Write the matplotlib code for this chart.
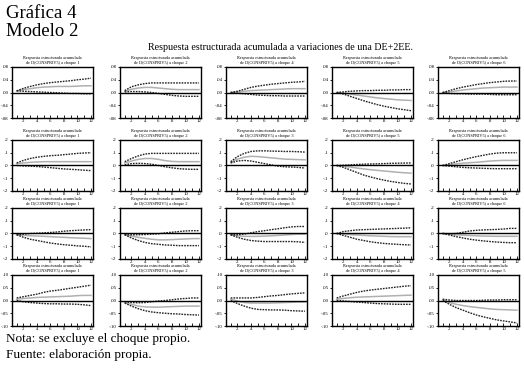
import matplotlib
matplotlib.use('Agg')
import matplotlib.pyplot as plt

plt.rcParams['font.family'] = ['Liberation Serif', 'DejaVu Serif']

periods = list(range(1, 13))

# shock number shown in each panel title, row by row
shocks = [
    [1, 2, 4, 5, 6],
    [1, 2, 3, 5, 6],
    [1, 2, 3, 4, 6],
    [1, 2, 3, 4, 5],
]

row_ticks = [
    [0.08, 0.04, 0.00, -0.04, -0.08],
    [0.2, 0.1, 0.0, -0.1, -0.2],
    [0.2, 0.1, 0.0, -0.1, -0.2],
    [0.10, 0.05, 0.00, -0.05, -0.10],
]
row_labels = [
    ['.08', '.04', '.00', '-.04', '-.08'],
    ['.2', '.1', '.0', '-.1', '-.2'],
    ['.2', '.1', '.0', '-.1', '-.2'],
    ['.10', '.05', '.00', '-.05', '-.10'],
]

# accumulated response (central) and +/- 2 s.e. bands
central = [
    [
        [0.005, 0.009, 0.012, 0.015, 0.017, 0.018, 0.019, 0.019, 0.019, 0.020, 0.021, 0.021],
        [0.004, 0.010, 0.014, 0.016, 0.016, 0.014, 0.012, 0.010, 0.009, 0.009, 0.009, 0.009],
        [0.0, 0.002, 0.004, 0.006, 0.007, 0.008, 0.009, 0.010, 0.011, 0.012, 0.012, 0.012],
        [0.0, -0.002, -0.005, -0.008, -0.011, -0.014, -0.017, -0.019, -0.021, -0.023, -0.024, -0.025],
        [0.0, 0.002, 0.005, 0.008, 0.010, 0.012, 0.014, 0.015, 0.016, 0.017, 0.017, 0.017],
    ],
    [
        [0.015, 0.020, 0.025, 0.028, 0.030, 0.030, 0.030, 0.030, 0.030, 0.030, 0.030, 0.030],
        [0.02, 0.035, 0.048, 0.055, 0.055, 0.048, 0.038, 0.032, 0.030, 0.030, 0.030, 0.030],
        [0.025, 0.05, 0.065, 0.072, 0.070, 0.065, 0.060, 0.055, 0.050, 0.048, 0.046, 0.045],
        [0.0, -0.005, -0.012, -0.020, -0.027, -0.033, -0.038, -0.043, -0.048, -0.053, -0.057, -0.060],
        [0.0, 0.007, 0.013, 0.018, 0.022, 0.025, 0.030, 0.035, 0.038, 0.040, 0.040, 0.040],
    ],
    [
        [-0.01, -0.015, -0.018, -0.020, -0.022, -0.025, -0.028, -0.030, -0.033, -0.035, -0.037, -0.040],
        [-0.01, -0.02, -0.03, -0.038, -0.045, -0.050, -0.050, -0.048, -0.045, -0.043, -0.040, -0.040],
        [-0.01, -0.018, -0.022, -0.023, -0.022, -0.020, -0.018, -0.015, -0.012, -0.008, -0.005, -0.005],
        [0.0, -0.003, -0.008, -0.012, -0.015, -0.018, -0.020, -0.022, -0.024, -0.025, -0.025, -0.025],
        [0.0, -0.005, -0.010, -0.013, -0.016, -0.018, -0.020, -0.021, -0.022, -0.022, -0.022, -0.022],
    ],
    [
        [0.005, 0.008, 0.010, 0.012, 0.013, 0.014, 0.015, 0.016, 0.017, 0.019, 0.020, 0.020],
        [-0.008, -0.015, -0.022, -0.025, -0.026, -0.026, -0.025, -0.024, -0.023, -0.022, -0.022, -0.022],
        [0.005, -0.002, -0.008, -0.010, -0.010, -0.010, -0.010, -0.009, -0.008, -0.007, -0.006, -0.006],
        [0.005, 0.008, 0.011, 0.013, 0.014, 0.015, 0.016, 0.017, 0.018, 0.019, 0.020, 0.021],
        [0.003, -0.008, -0.015, -0.020, -0.024, -0.027, -0.030, -0.033, -0.035, -0.036, -0.037, -0.038],
    ],
]

upper = [
    [
        [0.005, 0.013, 0.019, 0.024, 0.028, 0.031, 0.033, 0.035, 0.037, 0.040, 0.042, 0.045],
        [0.006, 0.018, 0.024, 0.028, 0.030, 0.030, 0.030, 0.030, 0.030, 0.030, 0.030, 0.030],
        [0.0, 0.004, 0.010, 0.016, 0.020, 0.023, 0.026, 0.028, 0.030, 0.032, 0.033, 0.035],
        [0.0, 0.002, 0.004, 0.005, 0.006, 0.006, 0.007, 0.007, 0.008, 0.008, 0.009, 0.009],
        [0.0, 0.006, 0.012, 0.017, 0.021, 0.025, 0.028, 0.031, 0.033, 0.035, 0.036, 0.036],
    ],
    [
        [0.02, 0.04, 0.055, 0.065, 0.072, 0.077, 0.080, 0.085, 0.090, 0.095, 0.098, 0.100],
        [0.03, 0.055, 0.075, 0.09, 0.095, 0.095, 0.095, 0.095, 0.095, 0.095, 0.095, 0.095],
        [0.03, 0.07, 0.095, 0.11, 0.115, 0.115, 0.113, 0.112, 0.110, 0.110, 0.108, 0.105],
        [0.0, 0.002, 0.005, 0.008, 0.010, 0.012, 0.013, 0.015, 0.017, 0.018, 0.019, 0.020],
        [0.0, 0.015, 0.03, 0.045, 0.058, 0.070, 0.080, 0.090, 0.097, 0.100, 0.100, 0.100],
    ],
    [
        [-0.01, -0.005, 0.0, 0.002, 0.005, 0.008, 0.012, 0.018, 0.022, 0.025, 0.028, 0.030],
        [-0.01, -0.01, -0.01, -0.008, -0.005, -0.002, 0.005, 0.010, 0.015, 0.020, 0.022, 0.022],
        [-0.01, -0.01, -0.005, 0.005, 0.015, 0.022, 0.030, 0.037, 0.045, 0.052, 0.055, 0.055],
        [0.0, 0.015, 0.022, 0.028, 0.030, 0.032, 0.034, 0.036, 0.038, 0.040, 0.042, 0.045],
        [0.0, -0.002, 0.0, 0.010, 0.020, 0.025, 0.028, 0.030, 0.032, 0.035, 0.040, 0.040],
    ],
    [
        [0.01, 0.015, 0.020, 0.025, 0.032, 0.037, 0.040, 0.044, 0.048, 0.052, 0.056, 0.060],
        [-0.005, -0.008, -0.009, -0.008, -0.005, -0.002, 0.0, 0.003, 0.006, 0.008, 0.010, 0.010],
        [0.01, 0.01, 0.01, 0.01, 0.012, 0.015, 0.018, 0.020, 0.023, 0.026, 0.028, 0.030],
        [0.01, 0.018, 0.025, 0.032, 0.037, 0.041, 0.044, 0.047, 0.050, 0.053, 0.056, 0.058],
        [0.005, 0.002, 0.0, 0.0, 0.0, 0.0, 0.001, 0.002, 0.002, 0.003, 0.003, 0.003],
    ],
]

lower = [
    [
        [0.005, 0.004, 0.003, 0.002, 0.001, 0.0, -0.001, -0.002, -0.003, -0.003, -0.004, -0.004],
        [0.002, 0.003, 0.003, 0.002, 0.000, -0.003, -0.006, -0.009, -0.011, -0.012, -0.012, -0.012],
        [0.0, -0.002, -0.004, -0.006, -0.008, -0.009, -0.010, -0.010, -0.011, -0.011, -0.011, -0.011],
        [0.0, -0.005, -0.012, -0.019, -0.026, -0.032, -0.038, -0.043, -0.047, -0.051, -0.054, -0.057],
        [0.0, -0.003, -0.004, -0.004, -0.005, -0.005, -0.005, -0.006, -0.007, -0.007, -0.007, -0.007],
    ],
    [
        [0.0, -0.003, -0.005, -0.008, -0.012, -0.017, -0.022, -0.027, -0.030, -0.033, -0.037, -0.040],
        [0.005, 0.015, 0.017, 0.015, 0.010, 0.000, -0.010, -0.018, -0.025, -0.028, -0.030, -0.030],
        [0.02, 0.035, 0.04, 0.035, 0.025, 0.015, 0.005, -0.005, -0.010, -0.012, -0.015, -0.020],
        [0.0, -0.015, -0.035, -0.055, -0.075, -0.090, -0.103, -0.115, -0.125, -0.133, -0.140, -0.145],
        [0.0, -0.005, -0.010, -0.015, -0.018, -0.020, -0.022, -0.024, -0.025, -0.025, -0.025, -0.025],
    ],
    [
        [-0.01, -0.03, -0.045, -0.055, -0.065, -0.075, -0.082, -0.088, -0.092, -0.097, -0.100, -0.105],
        [-0.01, -0.035, -0.055, -0.070, -0.080, -0.085, -0.090, -0.092, -0.095, -0.095, -0.095, -0.095],
        [-0.01, -0.03, -0.045, -0.055, -0.060, -0.063, -0.063, -0.063, -0.063, -0.063, -0.065, -0.070],
        [0.0, -0.015, -0.030, -0.045, -0.055, -0.065, -0.072, -0.078, -0.082, -0.085, -0.088, -0.090],
        [0.0, -0.012, -0.025, -0.035, -0.045, -0.052, -0.058, -0.063, -0.067, -0.070, -0.072, -0.072],
    ],
    [
        [0.0, -0.005, -0.008, -0.010, -0.012, -0.013, -0.013, -0.014, -0.014, -0.015, -0.017, -0.020],
        [-0.01, -0.022, -0.032, -0.040, -0.045, -0.048, -0.050, -0.052, -0.053, -0.055, -0.056, -0.057],
        [0.0, -0.012, -0.022, -0.030, -0.035, -0.036, -0.037, -0.037, -0.038, -0.040, -0.041, -0.042],
        [0.0, -0.002, -0.004, -0.006, -0.008, -0.010, -0.012, -0.013, -0.014, -0.015, -0.015, -0.015],
        [0.0, -0.015, -0.028, -0.038, -0.048, -0.057, -0.064, -0.070, -0.076, -0.080, -0.084, -0.088],
    ],
]

W, H = 524, 370
fig = plt.figure(figsize=(W / 100, H / 100), dpi=100)
fig.patch.set_facecolor('white')

fig.text(6 / W, 1 - 14 / H, 'Gráfica 4', fontsize=13.5, va='center', ha='left')
fig.text(6 / W, 1 - 32 / H, 'Modelo 2', fontsize=13.5, va='center', ha='left')
fig.text(280 / W, 1 - 48 / H, 'Respuesta estructurada acumulada a variaciones de una DE+2EE.',
         fontsize=7.2, va='center', ha='center')

lefts = [12, 120, 226, 332, 438]
tops = [67, 140, 208, 275]
aw, ah = 81, 51

for r in range(4):
    for c in range(5):
        ax = fig.add_axes([lefts[c] / W, 1 - (tops[r] + ah) / H, aw / W, ah / H])
        ax.plot(periods, central[r][c], color='#b0b0b0', lw=1.1)
        ax.plot(periods, upper[r][c], color='#222222', lw=1.0, ls=(0, (1.2, 0.8)))
        ax.plot(periods, lower[r][c], color='#222222', lw=1.0, ls=(0, (1.2, 0.8)))
        ax.axhline(0, color='black', lw=1.0)
        lim = row_ticks[r][0]
        ax.set_ylim(-lim, lim)
        ax.set_xlim(0.3, 12.3)
        ax.set_yticks(row_ticks[r])
        ax.set_yticklabels(row_labels[r])
        ax.set_xticks(periods)
        ax.set_xticklabels([str(p) if p % 2 == 0 else '' for p in periods])
        ax.tick_params(axis='both', labelsize=3.5, length=2, width=0.6, pad=1,
                       direction='in')
        ax.tick_params(axis='y', direction='out', length=1.5)
        for s in ax.spines.values():
            s.set_linewidth(1.0)
        ax.text(0.5, 1.03, 'Respuesta estructurada acumulada\nde D(CONSPRIV5) a choque %d' % shocks[r][c],
                transform=ax.transAxes, ha='center', va='bottom', fontsize=3.1,
                linespacing=1.35)

fig.text(6 / W, 1 - 339 / H, 'Nota: se excluye el choque propio.', fontsize=9.5,
         va='center', ha='left')
fig.text(6 / W, 1 - 355 / H, 'Fuente: elaboración propia.', fontsize=9.5,
         va='center', ha='left')

fig.savefig('out.png', dpi=100, facecolor='white')
